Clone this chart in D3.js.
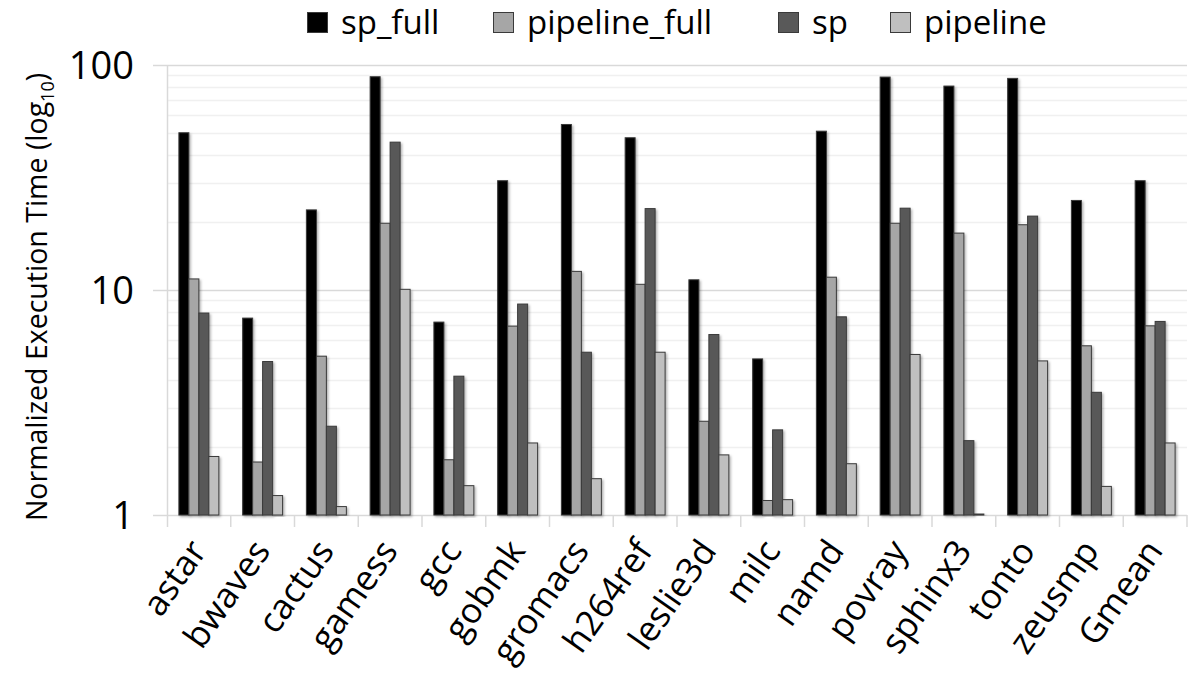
<!DOCTYPE html>
<html>
<head>
<meta charset="utf-8">
<script src="https://cdn.jsdelivr.net/npm/d3@7"></script>
<style>
  body { margin: 0; background: #fff; }
  text { font-family: "Open Sans", sans-serif; fill: #000; }
</style>
</head>
<body>
<script>
// Benchmarks and the four series (normalized execution time, log scale)
const categories = ["astar", "bwaves", "cactus", "gamess", "gcc", "gobmk", "gromacs", "h264ref",
    "leslie3d", "milc", "namd", "povray", "sphinx3", "tonto", "zeusmp", "Gmean"];
const seriesNames = ["sp_full", "pipeline_full", "sp", "pipeline"];
const spFull = [50, 7.5, 22.7, 88.7, 7.2, 30.6, 54.4, 47.5, 11.1, 4.94, 50.8, 88.4, 80.6, 87.2, 25.0, 30.6];
const pipelineFull = [11.2, 1.72, 5.08, 19.8, 1.76, 6.91, 12.1, 10.6, 2.61, 1.16, 11.4, 19.8, 17.9, 19.5, 5.65, 6.93];
const sp = [7.9, 4.81, 2.48, 45.4, 4.14, 8.66, 5.29, 23.0, 6.34, 2.39, 7.6, 23.1, 2.14, 21.3, 3.51, 7.25];
const pipeline = [1.82, 1.22, 1.09, 10.07, 1.35, 2.09, 1.45, 5.29, 1.85, 1.17, 1.69, 5.17, 1.01, 4.84, 1.34, 2.09];
const yTickValues = [1, 10, 100];

const seriesValues = [spFull, pipelineFull, sp, pipeline];
const colors = ["#000000", "#a6a6a6", "#595959", "#bfbfbf"];

const width = 1196, height = 677;
const plot = { left: 167, right: 1187, top: 65, bottom: 515 };

const svg = d3.select("body").append("svg")
    .attr("width", width)
    .attr("height", height);

// Scales
const x = d3.scaleBand()
    .domain(categories)
    .range([plot.left, plot.right]);

const xInner = d3.scaleBand()
    .domain(seriesNames)
    .range([0, x.bandwidth()])
    .paddingOuter(1.19);

const y = d3.scaleLog()
    .domain([1, 100])
    .range([plot.bottom, plot.top]);

// Minor gridlines
const minorTicks = y.ticks().filter(t => !yTickValues.includes(t));
svg.append("g")
    .selectAll("line")
    .data(minorTicks)
    .join("line")
    .attr("x1", plot.left)
    .attr("x2", plot.right)
    .attr("y1", d => Math.round(y(d)) + 0.5)
    .attr("y2", d => Math.round(y(d)) + 0.5)
    .attr("stroke", "#f0f0f0")
    .attr("stroke-width", 1.5);

// Major gridlines + y ticks
svg.append("g")
    .selectAll("line")
    .data(yTickValues)
    .join("line")
    .attr("x1", plot.left - 14)
    .attr("x2", plot.right)
    .attr("y1", d => Math.round(y(d)) + 0.5)
    .attr("y2", d => Math.round(y(d)) + 0.5)
    .attr("stroke", "#d9d9d9")
    .attr("stroke-width", 1.5);

// Left axis line
svg.append("line")
    .attr("x1", plot.left + 0.5)
    .attr("x2", plot.left + 0.5)
    .attr("y1", plot.top)
    .attr("y2", plot.bottom + 12)
    .attr("stroke", "#d9d9d9")
    .attr("stroke-width", 1.5);

// Category dividers below the axis
svg.append("g")
    .selectAll("line")
    .data(categories)
    .join("line")
    .attr("x1", d => x(d) + x.bandwidth())
    .attr("x2", d => x(d) + x.bandwidth())
    .attr("y1", plot.bottom)
    .attr("y2", plot.bottom + 12)
    .attr("stroke", "#d9d9d9")
    .attr("stroke-width", 1.5);

// Y tick labels
svg.append("g")
    .selectAll("text")
    .data(yTickValues)
    .join("text")
    .attr("x", 134)
    .attr("y", d => y(d))
    .attr("dy", "0.36em")
    .attr("text-anchor", "end")
    .style("font-size", "38px")
    .text(d => d);

// Bars
const defs = svg.append("defs");
defs.append("filter")
    .attr("id", "shadow")
    .attr("x", "-50%").attr("y", "-10%")
    .attr("width", "200%").attr("height", "120%")
    .append("feDropShadow")
    .attr("dx", 1.5).attr("dy", 1.5)
    .attr("stdDeviation", 1)
    .attr("flood-color", "#000")
    .attr("flood-opacity", 0.3);

const groups = svg.append("g")
    .selectAll("g")
    .data(categories)
    .join("g")
    .attr("transform", d => `translate(${x(d)},0)`);

groups.selectAll("rect")
    .data((d, i) => seriesNames.map((s, j) => ({ series: s, value: seriesValues[j][i], color: colors[j] })))
    .join("rect")
    .attr("x", d => xInner(d.series))
    .attr("width", xInner.bandwidth())
    .attr("y", d => y(d.value))
    .attr("height", d => y(1) - y(d.value))
    .attr("fill", d => d.color)
    .attr("stroke", "#3a3a3a")
    .attr("stroke-width", 1)
    .attr("filter", "url(#shadow)");

// X labels, rotated
svg.append("g")
    .selectAll("text")
    .data(categories)
    .join("text")
    .attr("text-anchor", "end")
    .attr("transform", d => `translate(${x(d) + x.bandwidth() / 2 + 9},${plot.bottom + 36}) rotate(-55)`)
    .style("font-size", "35px")
    .text(d => d);

// Y axis title
const yTitle = svg.append("text")
    .attr("transform", "translate(47,297) rotate(-90)")
    .attr("text-anchor", "middle")
    .style("font-size", "28.5px");
yTitle.append("tspan").text("Normalized Execution Time (log");
yTitle.append("tspan").attr("dy", 7).style("font-size", "18px").text("10");
yTitle.append("tspan").attr("dy", -7).text(")");

// Legend
const legendX = [307, 493, 778, 890];
const legend = svg.append("g")
    .selectAll("g")
    .data(seriesNames)
    .join("g")
    .attr("transform", (d, i) => `translate(${legendX[i]},0)`);

legend.append("rect")
    .attr("x", 0.5)
    .attr("y", 12.5)
    .attr("width", 20)
    .attr("height", 20)
    .attr("fill", (d, i) => colors[i])
    .attr("stroke", "#3a3a3a");

legend.append("text")
    .attr("x", 34)
    .attr("y", 34)
    .style("font-size", "33px")
    .text(d => d);
</script>
</body>
</html>
